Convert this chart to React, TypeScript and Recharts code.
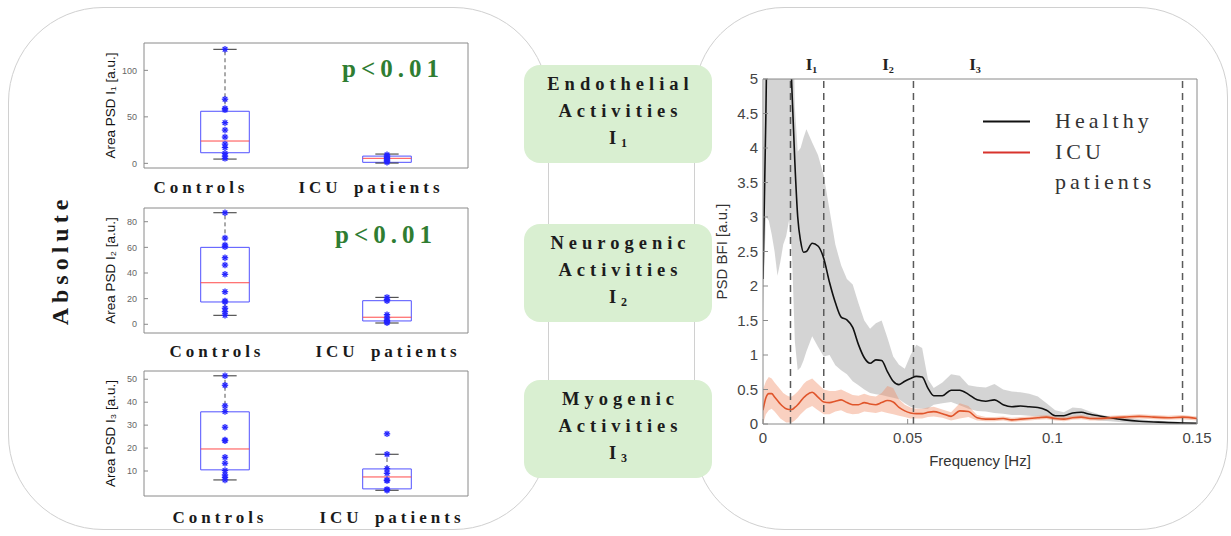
import React from 'react';
import {
  ComposedChart, Scatter, XAxis, YAxis, ReferenceArea, ReferenceLine, Line, Area, Legend,
} from 'recharts';

// ---------------- Box plot data (left panel) ----------------
const groupLabels = ['Controls', 'ICU patients'];
const groupPos = [1, 2];

// I1 (endothelial)
const i1Controls = [122.6, 69, 59, 57.5, 43.7, 35.8, 28.3, 20.7, 17, 10.7, 7.8, 5.3];
const i1Icu = [9.2, 7.8, 6.3, 5, 3.6, 2.4, 1.2];
const i1ControlsBox = [4.6, 11.4, 24, 56, 122.6]; // min, q1, median, q3, max
const i1IcuBox = [0.3, 1.1, 5.4, 7.8, 10];

// I2 (neurogenic)
const i2Controls = [87, 67.3, 61.8, 60.5, 51.9, 46.2, 39, 25.4, 18.2, 17.5, 12.5, 9.8, 7];
const i2Icu = [21, 19.5, 18.3, 7.5, 5, 3, 2, 1.2];
const i2ControlsBox = [7, 17.4, 32.4, 60, 87];
const i2IcuBox = [1, 2.6, 5.5, 18.4, 21];

// I3 (myogenic)
const i3Controls = [51.5, 47.4, 38.4, 35.9, 29.1, 23.5, 23.2, 16, 13.4, 10.2, 8.3, 7.2, 6.1];
const i3Icu = [26.2, 17.3, 11, 9, 6.1, 5.8, 2, 1.6];
const i3ControlsBox = [6.1, 10.5, 19.6, 35.8, 51.5];
const i3IcuBox = [1.6, 2.2, 7.4, 10.9, 17.3];

const i1Ticks = [0, 50, 100];
const i2Ticks = [0, 20, 40, 60, 80];
const i3Ticks = [0, 10, 20, 30, 40, 50];

// ---------------- PSD data (right panel) ----------------
const freq = [
  0, 0.001, 0.002, 0.003, 0.004, 0.005, 0.006, 0.007, 0.008, 0.009, 0.01, 0.011, 0.012, 0.013, 0.014, 0.015,
  0.017, 0.019, 0.021, 0.023, 0.025, 0.027, 0.029, 0.031, 0.033, 0.035, 0.037, 0.039, 0.041, 0.043, 0.045, 0.047, 0.049, 0.051, 0.053, 0.055, 0.057, 0.059,
  0.062, 0.065, 0.068, 0.071, 0.074, 0.077, 0.08, 0.083, 0.086, 0.089, 0.092, 0.095, 0.098, 0.101, 0.104, 0.107, 0.11, 0.113, 0.116,
  0.12, 0.125, 0.13, 0.135, 0.14, 0.145, 0.15,
];
const healthy = [
  2.1, 4.5, 7.5, 9, 9, 9, 9, 8.5, 7.5, 6, 4.85, 3.8, 3.0, 2.65, 2.49, 2.5,
  2.62, 2.58, 2.4, 2.05, 1.76, 1.55, 1.51, 1.4, 1.15, 0.96, 0.88, 0.93, 0.92, 0.76, 0.62, 0.57, 0.62, 0.66, 0.69, 0.68, 0.52, 0.41,
  0.41, 0.49, 0.49, 0.43, 0.35, 0.33, 0.35, 0.28, 0.25, 0.26, 0.25, 0.24, 0.2, 0.12, 0.12, 0.16, 0.17, 0.14, 0.12,
  0.09, 0.06, 0.04, 0.03, 0.02, 0.015, 0.01,
];
const healthyHi = [
  2.7, 9, 10, 10, 10, 10, 10, 10, 10, 10, 7, 4.6, 3.95, 4.0, 4.15, 4.27,
  4.08, 3.9, 3.6, 3.1, 2.6, 2.3, 2.1, 2.02, 1.75, 1.5, 1.38, 1.46, 1.5, 1.25, 0.98, 0.86, 0.8, 1.0, 1.15, 1.1, 0.65, 0.52,
  0.6, 0.72, 0.7, 0.56, 0.54, 0.53, 0.58, 0.5, 0.47, 0.46, 0.44, 0.4, 0.3, 0.2, 0.17, 0.24, 0.23, 0.18, 0.14,
  0.11, 0.09, 0.07, 0.05, 0.04, 0.03, 0.02,
];
const healthyLo = [
  1.6, 3.0, 2.95, 2.75, 2.5, 2.15, 2.35, 2.6, 2.72, 2.95, 2.5, 1.2, 0.78, 0.82, 0.92, 1.05,
  1.27, 1.12, 0.98, 1.0, 0.85, 0.78, 0.72, 0.62, 0.56, 0.5, 0.45, 0.43, 0.42, 0.4, 0.38, 0.36, 0.3, 0.25, 0.23, 0.22, 0.22, 0.28,
  0.3, 0.32, 0.27, 0.22, 0.19, 0.18, 0.16, 0.15, 0.13, 0.13, 0.12, 0.11, 0.09, 0.06, 0.07, 0.1, 0.1, 0.07, 0.05,
  0.04, 0.02, 0.01, 0.01, 0.005, 0.005, 0,
];
const icu = [
  0.2, 0.38, 0.44, 0.44, 0.39, 0.34, 0.29, 0.25, 0.22, 0.21, 0.21, 0.24, 0.28, 0.33, 0.38, 0.42,
  0.46, 0.39, 0.32, 0.31, 0.33, 0.35, 0.31, 0.28, 0.28, 0.31, 0.29, 0.28, 0.31, 0.34, 0.32, 0.24, 0.19, 0.16, 0.15, 0.15, 0.17, 0.18,
  0.15, 0.11, 0.19, 0.18, 0.09, 0.07, 0.07, 0.08, 0.06, 0.07, 0.08, 0.09, 0.1, 0.08, 0.07, 0.09, 0.1, 0.08, 0.08,
  0.09, 0.1, 0.11, 0.1, 0.09, 0.1, 0.08,
];
const icuHi = [
  0.5, 0.62, 0.68, 0.66, 0.6, 0.55, 0.5, 0.45, 0.42, 0.4, 0.4, 0.43, 0.47, 0.52, 0.58, 0.62,
  0.66, 0.58, 0.5, 0.48, 0.48, 0.5, 0.46, 0.42, 0.41, 0.44, 0.41, 0.4, 0.45, 0.55, 0.52, 0.36, 0.28, 0.24, 0.22, 0.22, 0.24, 0.25,
  0.21, 0.17, 0.3, 0.26, 0.13, 0.1, 0.1, 0.11, 0.09, 0.1, 0.11, 0.12, 0.13, 0.11, 0.1, 0.12, 0.13, 0.11, 0.11,
  0.12, 0.13, 0.14, 0.13, 0.12, 0.13, 0.11,
];
const icuLo = [
  0, 0.14, 0.2, 0.22, 0.18, 0.13, 0.08, 0.05, 0.02, 0.02, 0.02, 0.05, 0.09, 0.14, 0.18, 0.22,
  0.26, 0.2, 0.14, 0.14, 0.18, 0.2, 0.16, 0.14, 0.15, 0.18, 0.17, 0.16, 0.18, 0.16, 0.14, 0.12, 0.1, 0.08, 0.08, 0.08, 0.1, 0.11,
  0.09, 0.05, 0.08, 0.1, 0.05, 0.04, 0.04, 0.05, 0.03, 0.04, 0.05, 0.06, 0.07, 0.05, 0.04, 0.06, 0.07, 0.05, 0.05,
  0.06, 0.07, 0.08, 0.07, 0.06, 0.07, 0.05,
];
const bandEdges = [0.0095, 0.021, 0.052, 0.145];
const bandLabels = ['I₁', 'I₂', 'I₃'];
const bandLabelPos = [0.0168, 0.0432, 0.0733];
const psdXTicks = [0, 0.05, 0.1, 0.15];
const psdYTicks = [0, 0.5, 1, 1.5, 2, 2.5, 3, 3.5, 4, 4.5, 5];

const psdData = freq.map((f, i) => ({
  f,
  healthy: healthy[i],
  hBand: [healthyLo[i], healthyHi[i]],
  icu: icu[i],
  uBand: [icuLo[i], icuHi[i]],
}));

const SERIF = "'Liberation Serif', 'DejaVu Serif', serif";
const SANS = "'Liberation Sans', Arial, sans-serif";
const AXIS = '#8a8a8a';

const Star = (props: any) => {
  const { cx, cy } = props;
  if (cx == null || cy == null) return null;
  const r = 3.2;
  const d = r * 0.72;
  return (
    <g stroke="#2424ff" strokeWidth={1.3}>
      <line x1={cx - r} y1={cy} x2={cx + r} y2={cy} />
      <line x1={cx} y1={cy - r} x2={cx} y2={cy + r} />
      <line x1={cx - d} y1={cy - d} x2={cx + d} y2={cy + d} />
      <line x1={cx - d} y1={cy + d} x2={cx + d} y2={cy - d} />
    </g>
  );
};

function boxParts(pos: number, s: number[], key: string) {
  const [mn, q1, med, q3, mx] = s;
  const hw = 0.15;
  const cw = 0.072;
  const common = { xAxisId: 'b', yAxisId: 'l', ifOverflow: 'visible' as const };
  return [
    <ReferenceLine key={key + 'wu'} {...common} segment={[{ x: pos, y: q3 }, { x: pos, y: mx }]} stroke="#555" strokeDasharray="4 3" />,
    <ReferenceLine key={key + 'wl'} {...common} segment={[{ x: pos, y: mn }, { x: pos, y: q1 }]} stroke="#555" strokeDasharray="4 3" />,
    <ReferenceLine key={key + 'cu'} {...common} segment={[{ x: pos - cw, y: mx }, { x: pos + cw, y: mx }]} stroke="#333" />,
    <ReferenceLine key={key + 'cl'} {...common} segment={[{ x: pos - cw, y: mn }, { x: pos + cw, y: mn }]} stroke="#333" />,
    <ReferenceArea key={key + 'bx'} {...common} x1={pos - hw} x2={pos + hw} y1={q1} y2={q3} fill="none" fillOpacity={0} stroke="#5050ff" strokeWidth={1} />,
    <ReferenceLine key={key + 'md'} {...common} segment={[{ x: pos - hw, y: med }, { x: pos + hw, y: med }]} stroke="#ff4a4a" strokeWidth={1} />,
  ];
}

function BoxPlot(props: {
  plotTop: number; plotBottom: number; domain: [number, number]; ticks: number[]; title: string;
  ctrl: number[]; icuPts: number[]; ctrlBox: number[]; icuBox: number[];
}) {
  const { plotTop, plotBottom, domain, ticks, title, ctrl, icuPts, ctrlBox, icuBox } = props;
  const H = plotBottom - plotTop + 2;
  const ctrlData = ctrl.map((v) => ({ x: groupPos[0], y: v }));
  const icuData = icuPts.map((v) => ({ x: groupPos[1], y: v }));
  return (
    <div style={{ position: 'absolute', left: 90, top: plotTop - 1 }}>
      <ComposedChart width={390} height={H} margin={{ top: 0, right: 11, bottom: 0, left: 0 }}>
        <XAxis xAxisId="b" type="number" dataKey="x" domain={[0.5, 2.5]} ticks={groupPos} allowDataOverflow
          height={1} tick={false} tickSize={-4} stroke={AXIS} />
        <XAxis xAxisId="t" orientation="top" type="number" domain={[0.5, 2.5]} ticks={groupPos} allowDataOverflow
          height={1} tick={false} tickSize={-4} stroke={AXIS} />
        <YAxis yAxisId="l" type="number" dataKey="y" domain={domain} ticks={ticks} allowDataOverflow width={54}
          tickSize={-4} tickMargin={11} stroke={AXIS}
          tick={{ fill: '#666', fontSize: 9, fontFamily: SANS }}
          label={{ value: title, angle: -90, position: 'insideLeft', offset: 20, style: { textAnchor: 'middle' }, fill: '#111', fontSize: 13.5, fontFamily: SANS }} />
        <YAxis yAxisId="r" orientation="right" type="number" domain={domain} ticks={ticks} allowDataOverflow width={1}
          tick={false} tickSize={-4} stroke={AXIS} />
        {boxParts(groupPos[0], ctrlBox, 'c')}
        {boxParts(groupPos[1], icuBox, 'u')}
        <Scatter xAxisId="b" yAxisId="l" data={ctrlData} shape={Star} isAnimationActive={false} />
        <Scatter xAxisId="b" yAxisId="l" data={icuData} shape={Star} isAnimationActive={false} />
      </ComposedChart>
    </div>
  );
}

const catStyle: React.CSSProperties = {
  position: 'absolute', fontFamily: SERIF, fontWeight: 'bold', fontSize: 17, letterSpacing: 4,
  color: '#1a1a1a', whiteSpace: 'nowrap', transform: 'translate(-50%, -50%)', wordSpacing: 4,
};
const pStyle: React.CSSProperties = {
  position: 'absolute', fontFamily: SERIF, fontWeight: 'bold', fontSize: 25, letterSpacing: 5,
  color: '#2f7d32', whiteSpace: 'nowrap', transform: 'translate(-50%, -50%)',
};

function GreenBox({ top, lines, sub }: { top: number; lines: string[]; sub: string }) {
  return (
    <div style={{
      position: 'absolute', left: 524, top, width: 188, height: 98, background: '#d9efd1', borderRadius: 16,
      display: 'flex', flexDirection: 'column', alignItems: 'center', justifyContent: 'center',
      fontFamily: SERIF, fontWeight: 'bold', fontSize: 18.5, letterSpacing: 5, color: '#1c1c1c', lineHeight: '27px',
    }}>
      {lines.map((l) => <div key={l} style={{ paddingLeft: 5 }}>{l}</div>)}
      <div style={{ paddingLeft: 5 }}>I<sub style={{ fontSize: 12, verticalAlign: -3 }}>{sub}</sub></div>
    </div>
  );
}

const renderLegend = (p: any) => {
  const items = (p.payload || []).filter((e: any) => e.type !== 'none');
  return (
    <div>
      {items.map((e: any) => (
        <div key={e.value} style={{ display: 'flex', alignItems: 'flex-start', marginBottom: 0 }}>
          <svg width={72} height={31} style={{ flex: 'none' }}>
            <line x1={0} y1={15.5} x2={47} y2={15.5} stroke={e.value === 'Healthy' ? '#111' : '#d8332c'} strokeWidth={2} />
          </svg>
          <div style={{ width: 118, fontFamily: SERIF, fontSize: 22, letterSpacing: 4, color: '#333', lineHeight: '30px' }}>
            {e.value}
          </div>
        </div>
      ))}
    </div>
  );
};

function PsdChart() {
  return (
    <div style={{ position: 'absolute', left: 700, top: 40 }}>
      <ComposedChart width={530} height={440} data={psdData} margin={{ top: 38, right: 32, bottom: 12, left: 0 }}>
        <XAxis xAxisId="b" type="number" dataKey="f" domain={[0, 0.15]} ticks={psdXTicks} allowDataOverflow height={44}
          tickSize={-5} tickMargin={13} stroke={AXIS} tick={{ fill: '#444', fontSize: 15, fontFamily: SANS }}
          label={{ value: 'Frequency [Hz]', position: 'insideBottom', offset: 2, fill: '#333', fontSize: 15, fontFamily: SANS }} />
        <XAxis xAxisId="t" orientation="top" type="number" domain={[0, 0.15]} ticks={psdXTicks} allowDataOverflow height={1}
          tick={false} tickSize={-5} stroke={AXIS} />
        <YAxis yAxisId="l" type="number" domain={[0, 5]} ticks={psdYTicks} allowDataOverflow width={63}
          tickSize={-5} tickMargin={10} stroke={AXIS} tick={{ fill: '#444', fontSize: 15, fontFamily: SANS }}
          label={{ value: 'PSD BFI [a.u.]', angle: -90, position: 'insideLeft', offset: 22, style: { textAnchor: 'middle' }, fill: '#333', fontSize: 15, fontFamily: SANS }} />
        <YAxis yAxisId="r" orientation="right" type="number" domain={[0, 5]} ticks={psdYTicks} allowDataOverflow width={1}
          tick={false} tickSize={-5} stroke={AXIS} />
        <Area xAxisId="b" yAxisId="l" type="linear" dataKey="hBand" stroke="none" fill="#bdbdbd" fillOpacity={0.65}
          isAnimationActive={false} legendType="none" />
        <Area xAxisId="b" yAxisId="l" type="linear" dataKey="uBand" stroke="none" fill="#ef8a62" fillOpacity={0.4}
          isAnimationActive={false} legendType="none" />
        {bandEdges.map((x) => (
          <ReferenceLine key={'e' + x} xAxisId="b" yAxisId="l" x={x} stroke="#5a5a5a" strokeWidth={1.5} strokeDasharray="7 5" />
        ))}
        {bandLabels.map((t, i) => (
          <ReferenceLine key={'lb' + t} xAxisId="b" yAxisId="l" x={bandLabelPos[i]} stroke="none" ifOverflow="visible"
            label={{ value: t, position: 'top', offset: 9, fill: '#222', fontSize: 17, fontWeight: 'bold', fontFamily: SERIF }} />
        ))}
        <Line xAxisId="b" yAxisId="l" type="monotone" dataKey="healthy" name="Healthy" stroke="#111" strokeWidth={1.6} dot={false} isAnimationActive={false} />
        <Line xAxisId="b" yAxisId="l" type="monotone" dataKey="icu" name="ICU patients" stroke="#e0552b" strokeWidth={1.6} dot={false} isAnimationActive={false} />
        <Legend layout="vertical" align="center" verticalAlign="middle" content={renderLegend}
          wrapperStyle={{ position: 'absolute', left: 283, top: 66, width: 200 }} />
      </ComposedChart>
    </div>
  );
}

export default function App() {
  return (
    <div style={{ position: 'absolute', left: 0, top: 0, width: 1231, height: 536, background: '#fff', overflow: 'hidden' }}>
      <div style={{ position: 'absolute', left: 8, top: 7, width: 541, height: 523, border: '1px solid #d0d0d0', borderRadius: 95, boxSizing: 'border-box' }} />
      <div style={{ position: 'absolute', left: 694, top: 7, width: 534, height: 523, border: '1px solid #d0d0d0', borderRadius: 90, boxSizing: 'border-box' }} />

      <div style={{
        position: 'absolute', left: 60, top: 260, transform: 'translate(-50%, -50%) rotate(-90deg)',
        fontFamily: SERIF, fontWeight: 'bold', fontSize: 24, letterSpacing: 5, color: '#1a1a1a', whiteSpace: 'nowrap',
      }}>Absolute</div>

      <BoxPlot plotTop={43} plotBottom={168} domain={[-5, 129.4]} ticks={i1Ticks} title="Area PSD I₁ [a.u.]"
        ctrl={i1Controls} icuPts={i1Icu} ctrlBox={i1ControlsBox} icuBox={i1IcuBox} />
      <BoxPlot plotTop={208} plotBottom={333} domain={[-6.8, 90.7]} ticks={i2Ticks} title="Area PSD I₂ [a.u.]"
        ctrl={i2Controls} icuPts={i2Icu} ctrlBox={i2ControlsBox} icuBox={i2IcuBox} />
      <BoxPlot plotTop={371} plotBottom={496} domain={[-0.9, 53.6]} ticks={i3Ticks} title="Area PSD I₃ [a.u.]"
        ctrl={i3Controls} icuPts={i3Icu} ctrlBox={i3ControlsBox} icuBox={i3IcuBox} />

      <div style={{ ...catStyle, left: 201, top: 188 }}>{groupLabels[0]}</div>
      <div style={{ ...catStyle, left: 371, top: 188 }}>{groupLabels[1]}</div>
      <div style={{ ...catStyle, left: 217, top: 352 }}>{groupLabels[0]}</div>
      <div style={{ ...catStyle, left: 388, top: 352 }}>{groupLabels[1]}</div>
      <div style={{ ...catStyle, left: 220, top: 518 }}>{groupLabels[0]}</div>
      <div style={{ ...catStyle, left: 392, top: 518 }}>{groupLabels[1]}</div>

      <div style={{ ...pStyle, left: 393, top: 69 }}>p&lt;0.01</div>
      <div style={{ ...pStyle, left: 386, top: 235 }}>p&lt;0.01</div>

      <GreenBox top={65} lines={['Endothelial', 'Activities']} sub="1" />
      <GreenBox top={224} lines={['Neurogenic', 'Activities']} sub="2" />
      <GreenBox top={380} lines={['Myogenic', 'Activities']} sub="3" />

      <PsdChart />
    </div>
  );
}
